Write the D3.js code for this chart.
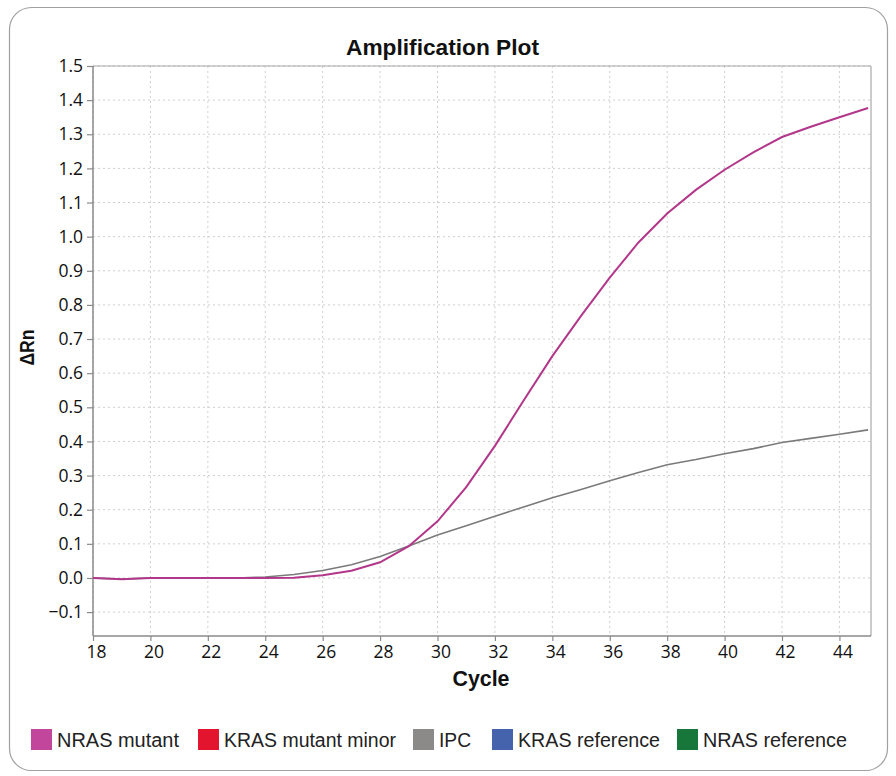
<!DOCTYPE html>
<html>
<head>
<meta charset="utf-8">
<script src="https://cdn.jsdelivr.net/npm/d3@7"></script>
<style>
  html, body { margin: 0; padding: 0; background: #ffffff; }
  svg { display: block; }
</style>
</head>
<body>
<svg id="chart" width="896" height="776"></svg>
<script>
// ---- data ----
const cycles = [18,19,20,21,22,23,24,25,26,27,28,29,30,31,32,33,34,35,36,37,38,39,40,41,42,43,44,45];
const nrasMutant = [0.000,-0.004,0.000,0.000,0.000,0.000,0.000,0.001,0.008,0.021,0.046,0.093,0.166,0.266,0.387,0.520,0.650,0.768,0.880,0.983,1.068,1.137,1.196,1.247,1.292,1.322,1.350,1.377];
const ipc        = [0.000,-0.003,0.000,0.000,0.000,0.000,0.003,0.010,0.022,0.039,0.063,0.094,0.126,0.153,0.181,0.208,0.235,0.259,0.285,0.309,0.332,0.347,0.364,0.379,0.397,0.409,0.421,0.434];
const xTicks = [18,20,22,24,26,28,30,32,34,36,38,40,42,44];
const yTicks = [-0.1,0.0,0.1,0.2,0.3,0.4,0.5,0.6,0.7,0.8,0.9,1.0,1.1,1.2,1.3,1.4,1.5];
const legendNames = ["NRAS mutant","KRAS mutant minor","IPC","KRAS reference","NRAS reference"];
const legendColors = ["#c2479c","#e3142d","#8c8a89","#4563ad","#17773a"];

// ---- layout ----
const svg = d3.select("#chart");
const L = 93, R = 871, T = 66, B = 636;
const x = d3.scaleLinear().domain([18, 45.1]).range([L, R]);
const y = d3.scaleLinear().domain([-0.17, 1.5]).range([B, T]);

// outer rounded frame
svg.append("rect").attr("x", 9.5).attr("y", 7.5).attr("width", 878).attr("height", 763)
  .attr("rx", 22).attr("fill", "#ffffff").attr("stroke", "#a0a0a0").attr("stroke-width", 1.2);

// plot background
svg.append("rect").attr("x", L).attr("y", T).attr("width", R - L).attr("height", B - T).attr("fill", "#ffffff");

// grid
const grid = svg.append("g");
grid.selectAll("line.gy").data(yTicks).join("line")
  .attr("x1", L).attr("x2", R).attr("y1", d => y(d)).attr("y2", d => y(d))
  .attr("stroke", "#cfcfcf").attr("stroke-width", 1).attr("stroke-dasharray", "2,3");
grid.selectAll("line.gx").data(xTicks).join("line")
  .attr("x1", d => x(d)).attr("x2", d => x(d)).attr("y1", T).attr("y2", B)
  .attr("stroke", "#cfcfcf").attr("stroke-width", 1).attr("stroke-dasharray", "2,3");

// plot border (top/right)
svg.append("line").attr("x1", L).attr("x2", R).attr("y1", T).attr("y2", T).attr("stroke", "#a8a8a8").attr("stroke-width", 1.2);
svg.append("line").attr("x1", R).attr("x2", R).attr("y1", T).attr("y2", B).attr("stroke", "#a8a8a8").attr("stroke-width", 1.2);

// axes
const fmt = d3.format(".1f");
const yAxis = svg.append("g").attr("transform", `translate(${L},0)`)
  .call(d3.axisLeft(y).tickValues(yTicks).tickSize(6).tickPadding(4)
    .tickFormat(d => fmt(d).replace("-", "\u2212")));
const xAxis = svg.append("g").attr("transform", `translate(0,${B})`)
  .call(d3.axisBottom(x).tickValues(xTicks).tickSize(5).tickPadding(5).tickFormat(d3.format("d")));
[yAxis, xAxis].forEach(a => {
  a.select(".domain").attr("stroke", "#8a8a8a").attr("stroke-width", 1.5);
  a.selectAll(".tick line").attr("stroke", "#8a8a8a").attr("stroke-width", 1.2);
  a.selectAll(".tick text").attr("fill", "#111").attr("font-family", "'Open Sans', 'Noto Sans', sans-serif").attr("font-size", 17.5);
});
yAxis.select(".domain").attr("d", `M-0,${T}V${B}`);
xAxis.select(".domain").attr("d", `M${L},0H${R}`);
xAxis.selectAll(".tick text").attr("dx", 3);

// lines
const line = d3.line().x((d, i) => x(cycles[i])).y(d => y(d)).curve(d3.curveLinear);
svg.append("path").datum(ipc).attr("d", line).attr("fill", "none")
  .attr("stroke", "#7a7a7a").attr("stroke-width", 1.6);
svg.append("path").datum(nrasMutant).attr("d", line).attr("fill", "none")
  .attr("stroke", "#b2378a").attr("stroke-width", 2);

// titles
svg.append("text").attr("x", 442.5).attr("y", 54.5).attr("text-anchor", "middle")
  .attr("font-family", "'Liberation Sans', Arial, sans-serif").attr("font-weight", "bold")
  .attr("font-size", 22).attr("fill", "#111").attr("textLength", 193).attr("lengthAdjust", "spacingAndGlyphs")
  .text("Amplification Plot");
svg.append("text").attr("x", 481).attr("y", 686).attr("text-anchor", "middle")
  .attr("font-family", "'Liberation Sans', Arial, sans-serif").attr("font-weight", "bold")
  .attr("font-size", 22).attr("fill", "#111").attr("textLength", 57).attr("lengthAdjust", "spacingAndGlyphs")
  .text("Cycle");
svg.append("text").attr("transform", "translate(34,347.5) rotate(-90)").attr("text-anchor", "middle")
  .attr("font-family", "'Liberation Sans', Arial, sans-serif").attr("font-weight", "bold")
  .attr("font-size", 20).attr("fill", "#111").attr("textLength", 36).attr("lengthAdjust", "spacingAndGlyphs")
  .text("ΔRn");

// legend
const legendX = [31, 198, 413, 492, 677];
const legendW = [122, 172, 32, 142, 144];
const lg = svg.append("g");
legendNames.forEach((n, i) => {
  lg.append("rect").attr("x", legendX[i]).attr("y", 729).attr("width", 21).attr("height", 21)
    .attr("fill", legendColors[i]);
  lg.append("text").attr("x", legendX[i] + 26).attr("y", 746.5)
    .attr("font-family", "'Liberation Sans', Arial, sans-serif").attr("font-size", 19.5).attr("fill", "#222")
    .attr("textLength", legendW[i]).attr("lengthAdjust", "spacingAndGlyphs")
    .text(n);
});
</script>
</body>
</html>
